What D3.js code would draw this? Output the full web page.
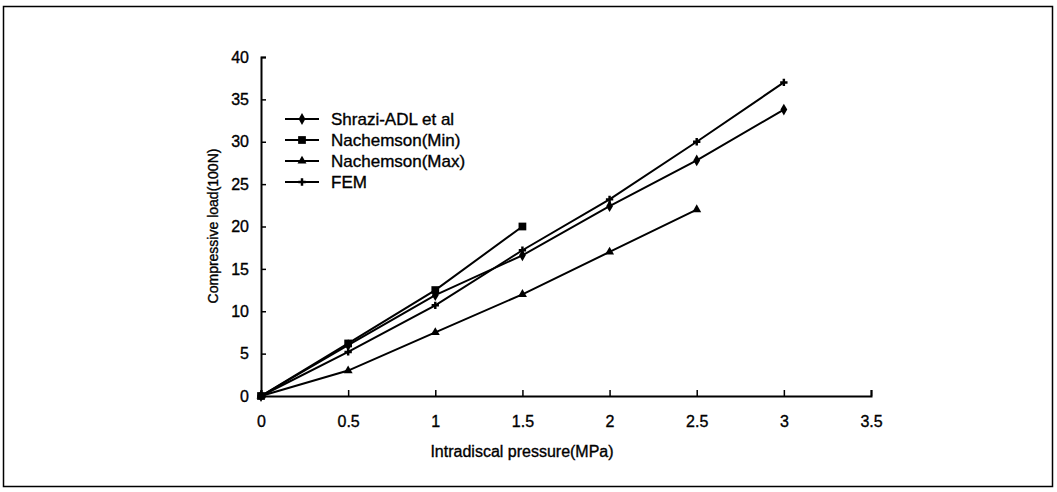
<!DOCTYPE html>
<html>
<head>
<meta charset="utf-8">
<script src="https://cdn.jsdelivr.net/npm/d3@7"></script>
<style>
  body { margin: 0; background: #fff; }
  text { font-family: "Liberation Sans", Arial, sans-serif; fill: #000; stroke: #000; stroke-width: 0.35px; }
</style>
</head>
<body>
<svg id="chart" width="1057" height="492"></svg>
<script>
// data
var pressure = [0, 0.5, 1, 1.5, 2, 2.5, 3];
var shirazi = [0, 6, 11.9, 16.6, 22.4, 27.8, 33.8];
var nachMin = [0, 6.2, 12.5, 20];
var nachMax = [0, 3, 7.5, 12, 17, 22];
var fem = [0, 5.2, 10.7, 17.2, 23.2, 30, 37];
var seriesNames = ["Shrazi-ADL et al", "Nachemson(Min)", "Nachemson(Max)", "FEM"];
var xTicks = [0, 0.5, 1, 1.5, 2, 2.5, 3, 3.5];
var yTicks = [0, 5, 10, 15, 20, 25, 30, 35, 40];

var svg = d3.select("#chart");

// outer frame
svg.append("rect")
    .attr("x", 3.5).attr("y", 6.5)
    .attr("width", 1049).attr("height", 480)
    .attr("fill", "none").attr("stroke", "#000").attr("stroke-width", 1.5);

var x = d3.scaleLinear().domain([0, 3.5]).range([261, 871]);
var y = d3.scaleLinear().domain([0, 40]).range([396, 57]);

function drawXAxis() {
  var g = svg.append("g")
      .attr("class", "x axis")
      .attr("transform", "translate(0," + y(0) + ")")
      .call(d3.axisBottom(x).tickValues(xTicks).tickSize(-6).tickPadding(20)
        .tickFormat(function(d) { return d; }));
  g.select(".domain").attr("stroke-width", 2);
  g.selectAll(".tick line").attr("stroke-width", 1.5);
  g.selectAll("text").attr("font-size", 16);
}

function drawYAxis() {
  var g = svg.append("g")
      .attr("class", "y axis")
      .attr("transform", "translate(" + x(0) + ",0)")
      .call(d3.axisLeft(y).tickValues(yTicks).tickSize(-5).tickPadding(12));
  g.select(".domain").attr("stroke-width", 2);
  g.selectAll(".tick line").attr("stroke-width", 1.5);
  g.selectAll("text").attr("font-size", 16);
}

drawXAxis();
drawYAxis();

svg.append("text")
    .attr("x", 522).attr("y", 457)
    .attr("text-anchor", "middle")
    .attr("font-size", 16)
    .text("Intradiscal pressure(MPa)");

svg.append("text")
    .attr("transform", "translate(218,226) rotate(-90)")
    .attr("text-anchor", "middle")
    .attr("font-size", 14)
    .text("Compressive load(100N)");

var series = [
  { name: seriesNames[0], values: shirazi, symbol: d3.symbolDiamond, size: 40 },
  { name: seriesNames[1], values: nachMin, symbol: d3.symbolSquare, size: 60 },
  { name: seriesNames[2], values: nachMax, symbol: d3.symbolTriangle, size: 35 },
  { name: seriesNames[3], values: fem, symbol: d3.symbolCross, size: 30 }
];

var line = d3.line()
    .x(function(d) { return x(d[0]); })
    .y(function(d) { return y(d[1]); });

series.forEach(function(s) {
  var pts = s.values.map(function(v, i) { return [pressure[i], v]; });
  svg.append("path")
      .datum(pts)
      .attr("d", line)
      .attr("fill", "none")
      .attr("stroke", "#000")
      .attr("stroke-width", 2);
  svg.selectAll(null)
      .data(pts)
      .enter().append("path")
      .attr("transform", function(d) { return "translate(" + x(d[0]) + "," + y(d[1]) + ")"; })
      .attr("d", d3.symbol().type(s.symbol).size(s.size))
      .attr("fill", "#000");
});

// legend
var legend = svg.append("g").attr("transform", "translate(285,119)");
series.forEach(function(s, i) {
  var row = legend.append("g").attr("transform", "translate(0," + i * 21 + ")");
  row.append("line")
      .attr("x1", 0).attr("x2", 34)
      .attr("stroke", "#000").attr("stroke-width", 2);
  row.append("path")
      .attr("transform", "translate(17,0)")
      .attr("d", d3.symbol().type(s.symbol).size(s.size))
      .attr("fill", "#000");
  row.append("text")
      .attr("x", 46).attr("y", 6)
      .attr("font-size", 17)
      .text(s.name);
});
</script>
</body>
</html>
